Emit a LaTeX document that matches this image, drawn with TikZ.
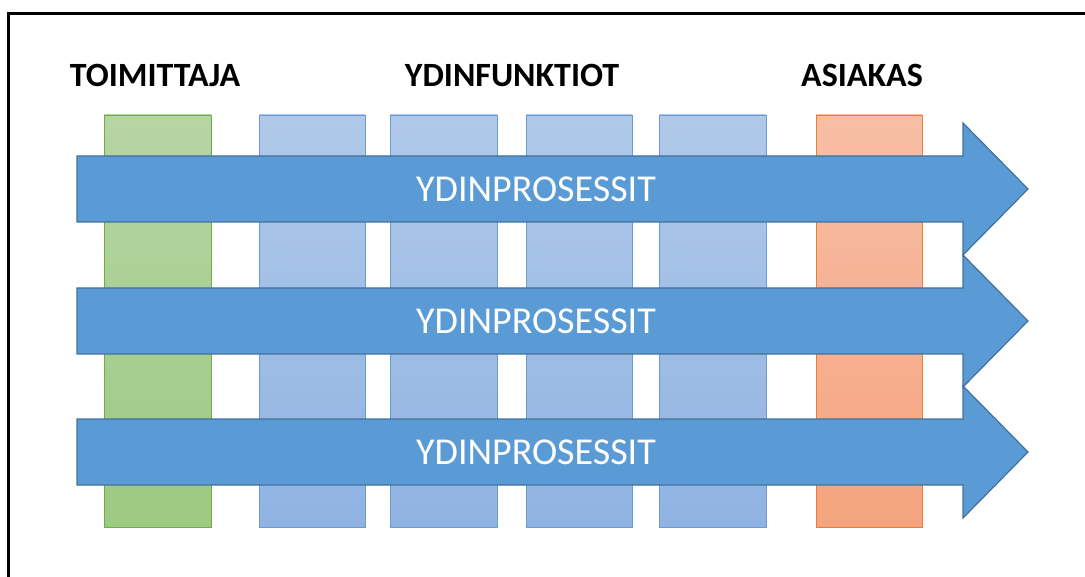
\documentclass[tikz,border=0pt]{standalone}
\usepackage{fontspec}
\setmainfont{Carlito}
\begin{document}
\begin{tikzpicture}[x=1pt,y=-1pt,
  arr/.style={fill=arrowblue, draw=arrowedge, line width=1.2pt, line join=miter},
  title/.style={font=\bfseries\fontsize{34}{38}\selectfont, text=black, inner sep=0pt, anchor=base},
  arrtext/.style={font=\fontsize{38}{42}\selectfont, text=white, inner sep=0pt}]
\definecolor{arrowblue}{HTML}{5B9BD5}
\definecolor{arrowedge}{HTML}{41719C}
\definecolor{gtop}{HTML}{B6D5A5}
\definecolor{gbot}{HTML}{9CC983}
\definecolor{gedge}{HTML}{70AD47}
\definecolor{btop}{HTML}{B0C9E9}
\definecolor{bbot}{HTML}{90B3E2}
\definecolor{bedge}{HTML}{6A9BD6}
\definecolor{otop}{HTML}{F7BEA6}
\definecolor{obot}{HTML}{F5A47E}
\definecolor{oedge}{HTML}{ED7D31}
\useasboundingbox (0,0) rectangle (1085,577);
\begin{scope}
\clip (0,0) rectangle (1085,577);
\draw[line width=2.2pt] (8.5,590) -- (8.5,13.5) -- (1100,13.5);
\end{scope}
% titles
\node[title] (t1) at (155,87) {TOIMITTAJA};
\node[title] (t2) at (512,87) {YDINFUNKTIOT};
\node[title] (t3) at (862,87) {ASIAKAS};
% columns
\foreach \n/\a/\b/\t/\bo/\e in {c1/104/211/gtop/gbot/gedge, c2/259/365/btop/bbot/bedge, c3/390/497/btop/bbot/bedge, c4/526/632/btop/bbot/bedge, c5/659/766/btop/bbot/bedge, c6/816/922/otop/obot/oedge}{
  \path[top color=\t, bottom color=\bo, draw=\e, line width=0.9pt] (\a,115) rectangle (\b,527);
  \node[inner sep=0pt, minimum width=0pt] (\n) at ({(\a+\b)/2},321) {};
}
% arrows
\foreach \n/\y in {a1/189, a2/321, a3/452}{
  \draw[arr] (77,\y-33) -- (963,\y-33) -- (963,\y-66) -- (1028,\y) -- (963,\y+66) -- (963,\y+33) -- (77,\y+33) -- cycle;
  \node[arrtext] (\n) at (536,\y) {YDINPROSESSIT};
}
\end{tikzpicture}
\end{document}
